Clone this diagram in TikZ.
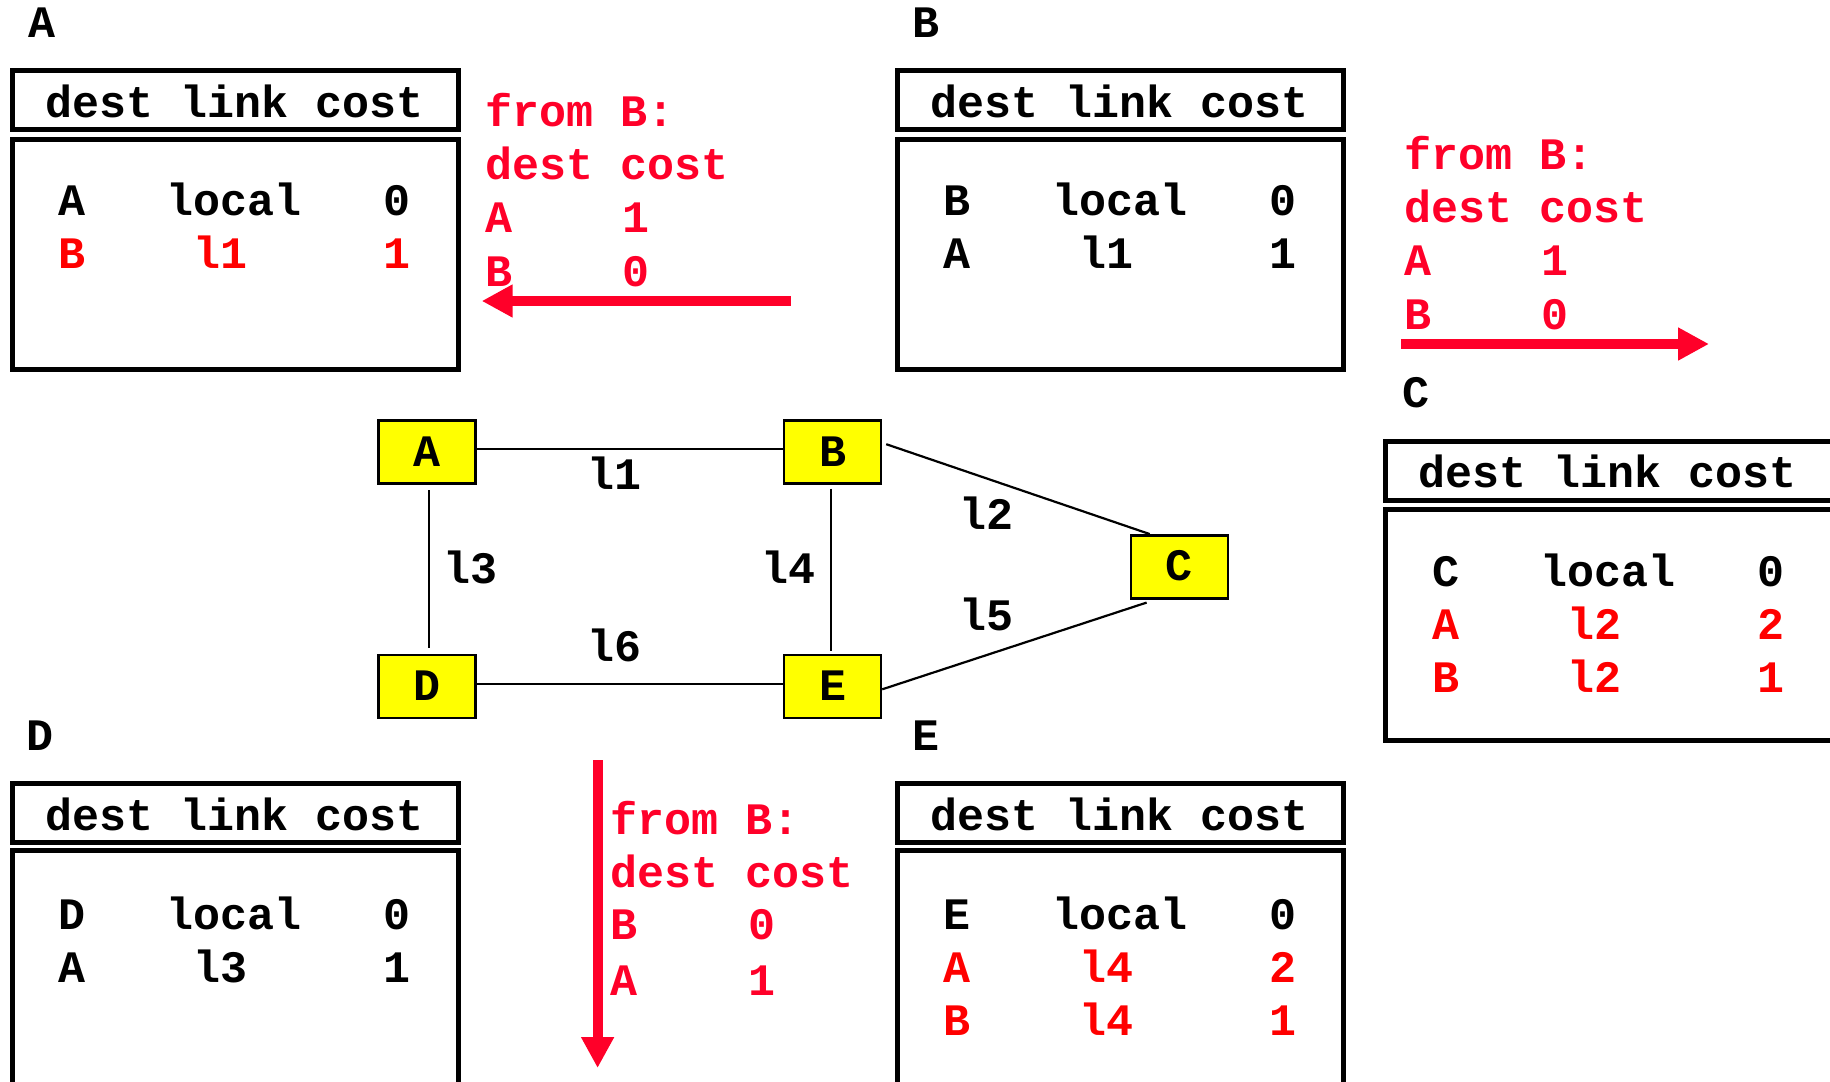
\documentclass[tikz,border=0pt]{standalone}
\usepackage{fontspec}
\setmainfont{Liberation Mono}
\usetikzlibrary{arrows.meta}
\definecolor{tred}{RGB}{255,0,0}
\definecolor{cred}{RGB}{255,0,41}
\definecolor{nyellow}{RGB}{255,255,0}
\begin{document}
\begin{tikzpicture}[x=1pt,y=-1pt,
  txt/.style={font=\fontsize{45}{54}\selectfont\bfseries, inner sep=0pt, anchor=base, yshift=-2.3pt},
  ltxt/.style={txt, anchor=base west},
  rtxt/.style={txt, text=tred},
  ctxt/.style={ltxt, text=cred},
  cval/.style={txt, text=cred},
  hbox/.style={draw, line width=5pt, inner sep=0pt, minimum width=446pt, minimum height=59pt},
  bbox/.style={draw, line width=5pt, inner sep=0pt, minimum width=446pt, minimum height=230pt},
  router/.style={draw, fill=nyellow, line width=2.5pt, inner sep=0pt, minimum width=97pt, minimum height=63pt, font=\fontsize{45}{54}\selectfont\bfseries},
  link/.style={line width=2.2pt},
  vlink/.style={line width=1.6pt},
  bigarrow/.style={draw=cred, line width=10pt, -{Triangle[length=31pt,width=31pt]}}]
\path[fill=white, use as bounding box] (0,0) rectangle (1830,1081);

% ---------- table A ----------
\node[txt] (labA) at (41.6,35) {A};
\node[hbox] (hA) at (235,99.7) {};
\node[bbox] (bA) at (235,254.2) {};
\node[txt] (thA) at (235,115) {dest link cost};
\node[txt] (a11) at (72,213.3) {A};
\node[txt] (a12) at (234,213.3) {local};
\node[txt] (a13) at (397,213.3) {0};
\node[rtxt] (a21) at (72,265.7) {B};
\node[rtxt] (a22) at (220.7,265.7) {l1};
\node[rtxt] (a23) at (397,265.7) {1};

% ---------- table B ----------
\node[txt] (labB) at (926,35) {B};
\node[hbox] (hB) at (1120.2,99.7) {};
\node[bbox] (bB) at (1120.2,254.2) {};
\node[txt] (thB) at (1120,115) {dest link cost};
\node[txt] (b11) at (957,213.3) {B};
\node[txt] (b12) at (1119.5,213.3) {local};
\node[txt] (b13) at (1282.6,213.3) {0};
\node[txt] (b21) at (957,265.7) {A};
\node[txt] (b22) at (1106.4,265.7) {l1};
\node[txt] (b23) at (1282.6,265.7) {1};

% ---------- table C ----------
\node[txt] (labC) at (1415.8,405) {C};
\node[hbox, minimum width=460pt] (hC) at (1615.5,470.5) {};
\node[bbox, minimum width=460pt, minimum height=231pt] (bC) at (1615.5,625) {};
\node[txt] (thC) at (1608,485) {dest link cost};
\node[txt] (c11) at (1445.5,584) {C};
\node[txt] (c12) at (1608,584) {local};
\node[txt] (c13) at (1770.8,584) {0};
\node[rtxt] (c21) at (1445.5,637) {A};
\node[rtxt] (c22) at (1594.5,637) {l2};
\node[rtxt] (c23) at (1770.8,637) {2};
\node[rtxt] (c31) at (1445.5,690) {B};
\node[rtxt] (c32) at (1594.5,690) {l2};
\node[rtxt] (c33) at (1770.8,690) {1};

% ---------- table D ----------
\node[txt] (labD) at (40,748) {D};
\node[hbox] (hD) at (235,813) {};
\node[bbox, minimum height=260pt] (bD) at (235,980.5) {};
\node[txt] (thD) at (235,828) {dest link cost};
\node[txt] (d11) at (72,927) {D};
\node[txt] (d12) at (234,927) {local};
\node[txt] (d13) at (397,927) {0};
\node[txt] (d21) at (72,980) {A};
\node[txt] (d22) at (220.7,980) {l3};
\node[txt] (d23) at (397,980) {1};

% ---------- table E ----------
\node[txt] (labE) at (926,748) {E};
\node[hbox] (hE) at (1120.2,813) {};
\node[bbox, minimum height=260pt] (bE) at (1120.2,980.5) {};
\node[txt] (thE) at (1120,828) {dest link cost};
\node[txt] (e11) at (957,927) {E};
\node[txt] (e12) at (1119.5,927) {local};
\node[txt] (e13) at (1282.6,927) {0};
\node[rtxt] (e21) at (957,980) {A};
\node[rtxt] (e22) at (1106.4,980) {l4};
\node[rtxt] (e23) at (1282.6,980) {2};
\node[rtxt] (e31) at (957,1033) {B};
\node[rtxt] (e32) at (1106.4,1033) {l4};
\node[rtxt] (e33) at (1282.6,1033) {1};

% ---------- messages from B ----------
\node[ctxt] (mA0) at (485,124) {from B:};
\node[ctxt] (mA1) at (485,176.7) {dest cost};
\node[ctxt] (mA2) at (485,230) {A};
\node[cval] (mA2v) at (635.5,230) {1};
\node[ctxt] (mA3) at (485,284) {B};
\node[cval] (mA3v) at (635.5,284) {0};
\coordinate (arrAs) at (790.6,301);
\coordinate (arrAe) at (481.7,301);
\draw[bigarrow] (arrAs) -- (arrAe);

\node[ctxt] (mB0) at (1404,166.7) {from B:};
\node[ctxt] (mB1) at (1404,220) {dest cost};
\node[ctxt] (mB2) at (1404,272.7) {A};
\node[cval] (mB2v) at (1555,272.7) {1};
\node[ctxt] (mB3) at (1404,327) {B};
\node[cval] (mB3v) at (1555,327) {0};
\coordinate (arrBs) at (1401,344);
\coordinate (arrBe) at (1709,344);
\draw[bigarrow] (arrBs) -- (arrBe);

\node[ctxt] (mD0) at (610,831.7) {from B:};
\node[ctxt] (mD1) at (610,885) {dest cost};
\node[ctxt] (mD2) at (610,937) {B};
\node[cval] (mD2v) at (761.5,937) {0};
\node[ctxt] (mD3) at (610,993) {A};
\node[cval] (mD3v) at (761.5,993) {1};
\coordinate (arrDs) at (597.6,760);
\coordinate (arrDe) at (597.6,1068);
\draw[bigarrow] (arrDs) -- (arrDe);

% ---------- network ----------
\node[router] (A) at (426.9,452.2) {\raisebox{2pt}{A}};
\node[router] (B) at (832.5,452.2) {\raisebox{2pt}{B}};
\node[router] (C) at (1179.4,566.8) {\raisebox{2pt}{C}};
\node[router] (D) at (426.9,686.7) {\raisebox{2pt}{D}};
\node[router] (E) at (832.5,686.7) {\raisebox{2pt}{E}};

\draw[link] ([yshift=3pt]A.east) -- ([yshift=3pt]B.west);
\draw[link] ([yshift=2.7pt]D.east) -- ([yshift=2.7pt]E.west);
\draw[vlink, shorten <=5.5pt, shorten >=6pt] ([xshift=2pt]A.south) -- ([xshift=2pt]D.north);
\draw[vlink, shorten <=3.6pt, shorten >=3pt] ([xshift=-1.8pt]B.south) -- ([xshift=-1.8pt]E.north);
\draw[link] ([shift={(4pt,8pt)}]B.east) -- ([xshift=20pt]C.north west);
\draw[link] ([yshift=-2.6pt]E.east) -- ([shift={(17pt,-3pt)}]C.south west);

\node[txt] (l1) at (614,487) {l1};
\node[txt] (l2) at (986,527) {l2};
\node[txt] (l3) at (470,581.5) {l3};
\node[txt] (l4) at (788.5,581.5) {l4};
\node[txt] (l5) at (986,628) {l5};
\node[txt] (l6) at (614.5,659) {l6};
\end{tikzpicture}
\end{document}
